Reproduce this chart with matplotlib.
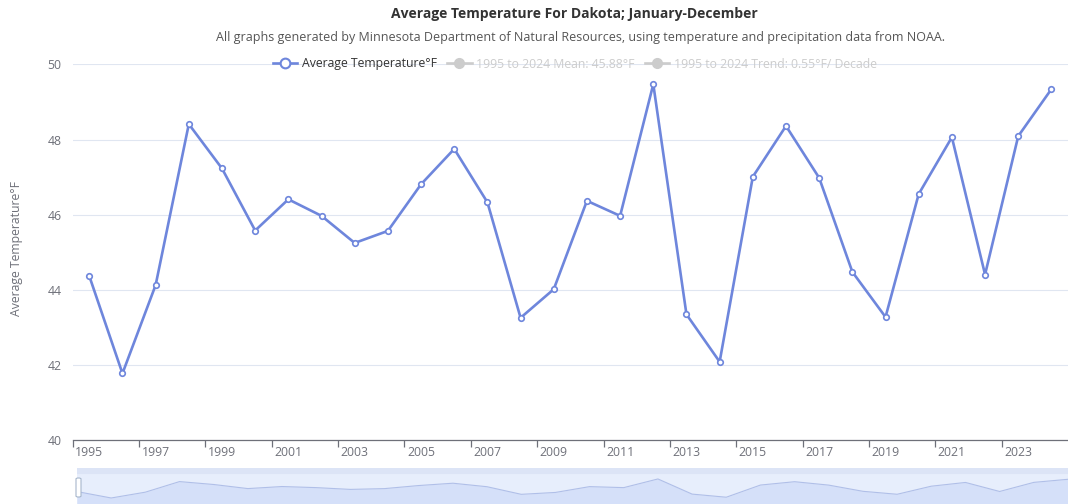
import matplotlib
matplotlib.use("Agg")
import matplotlib.pyplot as plt
from matplotlib.lines import Line2D
from matplotlib.patches import FancyBboxPatch
import numpy as np

plt.rcParams['font.family'] = ['Open Sans', 'DejaVu Sans']

years = list(range(1995, 2025))
avg_temp = [44.37, 41.78, 44.13, 48.41, 47.23, 45.58, 46.41, 45.97, 45.25, 45.57,
            46.81, 47.75, 46.33, 43.26, 44.02, 46.37, 45.97, 49.47, 43.35, 42.09,
            47.01, 48.36, 46.98, 44.48, 43.28, 46.55, 48.06, 44.41, 48.09, 49.34]
y_ticks = [40, 42, 44, 46, 48, 50]
legend_labels = ['Average Temperature°F',
                 '1995 to 2024 Mean: 45.88°F',
                 '1995 to 2024 Trend: 0.55°F/ Decade']

LINE = '#6e86dc'
AXIS = '#6e7079'
GRID = '#e0e6f1'

W, H = 1068, 504
fig = plt.figure(figsize=(W / 100, H / 100), dpi=100)

# main plot area, in pixel terms
left, right, top, bottom = 72.7, 1068, 64.3, 440.4
ax = fig.add_axes([left / W, 1 - bottom / H, (right - left) / W, (bottom - top) / H])

x = np.arange(len(years))
ax.plot(x, avg_temp, color=LINE, lw=1.9, marker='o', ms=4.0,
        mfc='white', mec=LINE, mew=1.2, zorder=3, clip_on=False)

ax.set_xlim(-0.5, len(years) - 0.5)
ax.set_ylim(40, 50)
ax.set_yticks(y_ticks)
ax.grid(axis='y', color=GRID, lw=0.8)
ax.set_axisbelow(True)
for s in ['top', 'right', 'left']:
    ax.spines[s].set_visible(False)
ax.spines['bottom'].set_color(AXIS)
ax.spines['bottom'].set_linewidth(0.9)
ax.tick_params(axis='y', length=0, pad=8, labelsize=8.8, labelcolor=AXIS)

# ticks on band boundaries, labels centred in bands (category axis)
ax.set_xticks(np.arange(-0.5, len(years) - 1, 2))
ax.set_xticklabels([])
ax.set_xticks(x[::2], minor=True)
ax.set_xticklabels([str(y) for y in years[::2]], minor=True)
ax.tick_params(axis='x', which='major', length=5, color=AXIS, width=0.9)
ax.tick_params(axis='x', which='minor', length=0, pad=4, labelsize=8.8, labelcolor=AXIS)

fig.text(17 / W, 1 - 249 / H, 'Average Temperature°F', rotation=90,
         ha='center', va='center', fontsize=8.8, color=AXIS)

# titles
fig.text(574 / W, 1 - 14 / H, 'Average Temperature For Dakota; January-December',
         ha='center', va='center', fontsize=10, fontweight='bold', color='#333333')
fig.text(580 / W, 1 - 37 / H,
         'All graphs generated by Minnesota Department of Natural Resources, '
         'using temperature and precipitation data from NOAA.',
         ha='center', va='center', fontsize=9, color='#555555')

# legend (the two reference series are switched off, hence grey)
handles = [Line2D([], [], color=LINE, lw=1.9, marker='o', ms=7, mfc='white', mec=LINE, mew=1.5),
           Line2D([], [], color='#cccccc', lw=1.9, marker='o', ms=7, mfc='#cccccc', mec='#cccccc'),
           Line2D([], [], color='#cccccc', lw=1.9, marker='o', ms=7, mfc='#cccccc', mec='#cccccc')]
leg = fig.legend(handles, legend_labels, loc='center', bbox_to_anchor=(575 / W, 1 - 64 / H),
                 ncol=3, frameon=False, fontsize=8.8, handlelength=2.0,
                 handletextpad=0.4, columnspacing=0.8)
for t, c in zip(leg.get_texts(), ['#333333', '#cccccc', '#cccccc']):
    t.set_color(c)

# data zoom slider at the bottom
sl_left, sl_top = 77, 468
sax = fig.add_axes([sl_left / W, 0, (W - sl_left) / W, (H - sl_top) / H])
sax.set_facecolor('#e7eefc')
sax.fill_between(x, avg_temp, 30, color='#d5e0f9', lw=0)
sax.plot(x, avg_temp, color='#b0bfe8', lw=0.8)
sax.set_xlim(0, len(years) - 1)
sax.set_ylim(39.35, 53.9)
sax.axhline(53.9, color='#dce4f6', lw=8)
for s in sax.spines.values():
    s.set_visible(False)
sax.set_xticks([])
sax.set_yticks([])

handle = FancyBboxPatch((76 / W, 1 - 497 / H), 5 / W, 19 / H,
                        boxstyle='round,pad=0.0,rounding_size=0.002',
                        transform=fig.transFigure, fc='white', ec='#a7b7cc', lw=0.8)
fig.patches.append(handle)

fig.savefig('out.png', dpi=100)
